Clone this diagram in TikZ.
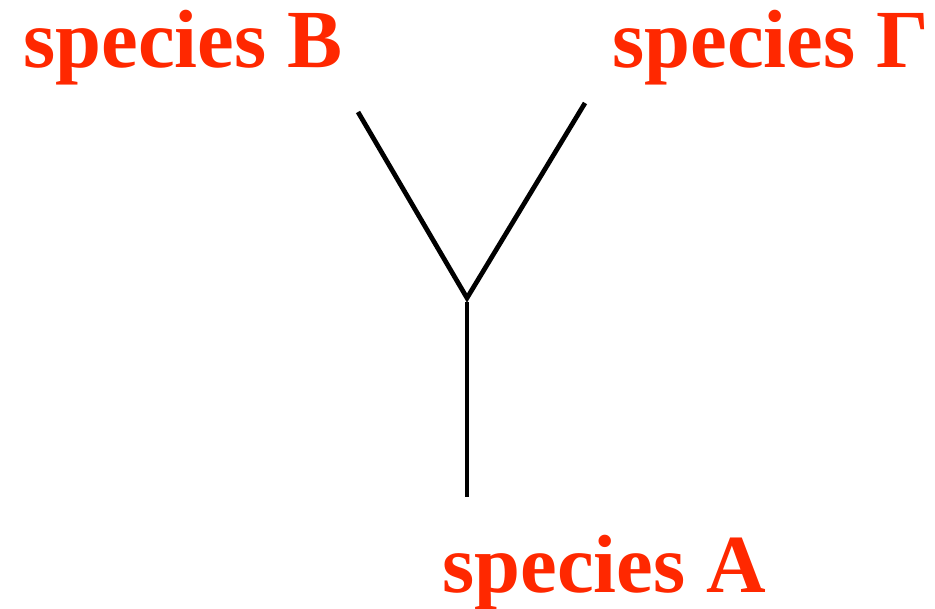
\documentclass[tikz,border=0pt]{standalone}
\usepackage{fontspec}
\setmainfont{Liberation Serif}
\usepackage{tikz}
\usetikzlibrary{positioning}
\definecolor{speciesred}{RGB}{255,40,0}
\tikzstyle{species} = [text=speciesred, 
font=\fontsize{47}{56}\selectfont\bfseries, 
inner sep=0pt, 
anchor=base west]
\tikzstyle{branch} = [line width=2.7pt, draw=black]

\begin{document}
\begin{tikzpicture}
        \useasboundingbox (0,0) rectangle (18.7,12.18);

        % Nodos
        \node (spB) [species] at (0.46,10.82) {species B};
        \node (spG) [species] at (12.24,10.82) {species Γ};
        \node (spA) [species] at (8.84,0.32) {species A};

        % Ramas
        \coordinate (root) at (9.34,6.22);
        \coordinate (tipB) at (7.16,9.94);
        \coordinate (tipG) at (11.70,10.12);
        \coordinate (tipA) at (9.34,2.24);

        \draw [branch] (tipB) -- (root) -- (tipG);
        \draw [branch] ([yshift=-0.08cm]root) -- (tipA);

    \end{tikzpicture}
\end{document}
